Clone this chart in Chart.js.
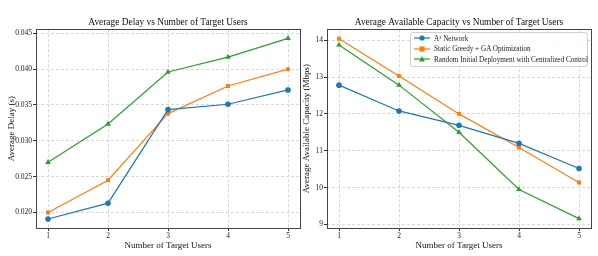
<!DOCTYPE html>
<html>
<head>
<meta charset="utf-8">
<script src="https://cdn.jsdelivr.net/npm/chart.js@4.4.1/dist/chart.umd.min.js"></script>
<style>
  body { margin: 0; background: #fff; }
  #wrap { position: relative; width: 598px; height: 256px; overflow: hidden; }
  canvas { position: absolute; top: 0; }
  #delay { left: 0; }
  #capacity { left: 295px; }
  #legend {
    position: absolute; left: 410px; top: 32px; width: 178px;
    border: 1px solid #d0d0d0; border-radius: 3px; background: rgba(255,255,255,0.85);
    font-family: "Liberation Serif", serif; font-size: 7.2px; color: #222;
    padding: 1px 0 1px 0; box-sizing: border-box;
  }
  #legend div { height: 10.4px; line-height: 10.4px; white-space: nowrap; }
  #legend svg { vertical-align: middle; margin: 0 4px 0 3px; position: relative; top: -1px; }
</style>
</head>
<body>
<div id="wrap">
  <canvas id="delay" width="336" height="256"></canvas>
  <canvas id="capacity" width="328" height="256"></canvas>
  <div id="legend"></div>
</div>
<script>
const users = [1, 2, 3, 4, 5];
const seriesNames = [
  "A\u00b3 Network",
  "Static Greedy + GA Optimization",
  "Random Initial Deployment with Centralized Control",
];
const colors = ["#1f77b4", "#ff7f0e", "#2ca02c"];
const markers = ["circle", "rect", "triangle"];

const delayA3 = [0.0191, 0.0213, 0.03435, 0.0351, 0.0371];
const delayGreedy = [0.0200, 0.0245, 0.0338, 0.03765, 0.0400];
const delayRandom = [0.0270, 0.03235, 0.0396, 0.04167, 0.0443];

const capA3 = [12.78, 12.08, 11.69, 11.2, 10.52];
const capGreedy = [14.04, 13.03, 12.0, 11.09, 10.14];
const capRandom = [13.87, 12.78, 11.5, 9.95, 9.16];

const delayTicks = [0.020, 0.025, 0.030, 0.035, 0.040, 0.045];
const capTicks = [9, 10, 11, 12, 13, 14];

const font = "'Liberation Serif', 'Times New Roman', serif";

const frame = {
  id: "frame",
  afterDraw(chart) {
    const { ctx, chartArea: a } = chart;
    ctx.save();
    ctx.strokeStyle = "#444";
    ctx.lineWidth = 1;
    ctx.strokeRect(Math.round(a.left) + 0.5, Math.round(a.top) + 0.5,
      Math.round(a.right - a.left), Math.round(a.bottom - a.top));
    ctx.restore();
  },
};

const makeSets = (lists) =>
  lists.map((vals, i) => ({
    label: seriesNames[i],
    data: vals.map((v, j) => ({ x: users[j], y: v })),
    borderColor: colors[i],
    backgroundColor: colors[i],
    pointStyle: markers[i],
    pointRadius: i === 2 ? 3.3 : 2.8,
    borderWidth: 1.2,
    pointBorderWidth: 0,
    fill: false,
  }));

const gridOpts = {
  color: "#d9d9d9",
  tickColor: "#333",
  tickBorderDash: [],
  tickLength: 3,
};

const makeOptions = (title, yTitle, yMin, yMax, yTicks, yFmt, yWidth, rightGap) => ({
  responsive: false,
  animation: false,
  layout: { padding: 0 },
  plugins: {
    legend: { display: false },
    tooltip: { enabled: false },
    title: {
      display: true,
      text: title,
      color: "#111",
      font: { family: font, size: 9.4, weight: "normal" },
      padding: { top: 17, bottom: 1 },
    },
  },
  scales: {
    x: {
      type: "linear",
      min: 0.8,
      max: 5.2,
      afterBuildTicks: (s) => { s.ticks = users.map((v) => ({ value: v })); },
      afterFit: (s) => { s.height = 28; },
      border: { display: false, dash: [3, 2] },
      grid: gridOpts,
      ticks: { color: "#222", padding: 1, font: { family: font, size: 7.5 } },
      title: {
        display: true,
        text: "Number of Target Users",
        color: "#111",
        font: { family: font, size: 9 },
        padding: { top: 0, bottom: 5 },
      },
    },
    y: {
      min: yMin,
      max: yMax,
      afterBuildTicks: (s) => { s.ticks = yTicks.map((v) => ({ value: v })); },
      afterFit: (s) => { s.width = yWidth; },
      border: { display: false, dash: [3, 2] },
      grid: gridOpts,
      ticks: {
        color: "#222",
        padding: 1,
        font: { family: font, size: 7.5 },
        callback: yFmt,
      },
      title: {
        display: true,
        text: yTitle,
        color: "#111",
        font: { family: font, size: 9 },
        padding: { top: 6, bottom: 1 },
      },
    },
    // empty right axis keeps the title centred over the plot box
    gap: {
      position: "right",
      min: 0,
      max: 1,
      afterFit: (s) => { s.width = rightGap; },
      border: { display: false },
      grid: { display: false, drawTicks: false },
      ticks: { display: false },
    },
  },
});

new Chart(document.getElementById("delay"), {
  type: "line",
  data: { datasets: makeSets([delayA3, delayGreedy, delayRandom]) },
  options: makeOptions(
    "Average Delay vs Number of Target Users",
    "Average Delay (s)",
    0.01784, 0.04556, delayTicks,
    (v) => Number(v).toFixed(3),
    36, 36
  ),
  plugins: [frame],
});

new Chart(document.getElementById("capacity"), {
  type: "line",
  data: { datasets: makeSets([capA3, capGreedy, capRandom]) },
  options: makeOptions(
    "Average Available Capacity vs Number of Target Users",
    "Average Available Capacity (Mbps)",
    8.905, 14.295, capTicks,
    (v) => String(v),
    32, 32
  ),
  plugins: [frame],
});

// legend: line with marker, like the plot handles
const legend = document.getElementById("legend");
const glyph = (i) => {
  const c = colors[i];
  let m = "";
  if (markers[i] === "circle") m = `<circle cx="8" cy="4" r="2.6" fill="${c}"/>`;
  else if (markers[i] === "rect") m = `<rect x="5.4" y="1.4" width="5.2" height="5.2" fill="${c}"/>`;
  else m = `<polygon points="8,1 10.8,6.4 5.2,6.4" fill="${c}"/>`;
  return `<svg width="16" height="8"><line x1="0" y1="4" x2="16" y2="4" stroke="${c}" stroke-width="1.2"/>${m}</svg>`;
};
seriesNames.forEach((name, i) => {
  const row = document.createElement("div");
  row.innerHTML = glyph(i) + "<span></span>";
  row.querySelector("span").textContent = name;
  legend.appendChild(row);
});
</script>
</body>
</html>
